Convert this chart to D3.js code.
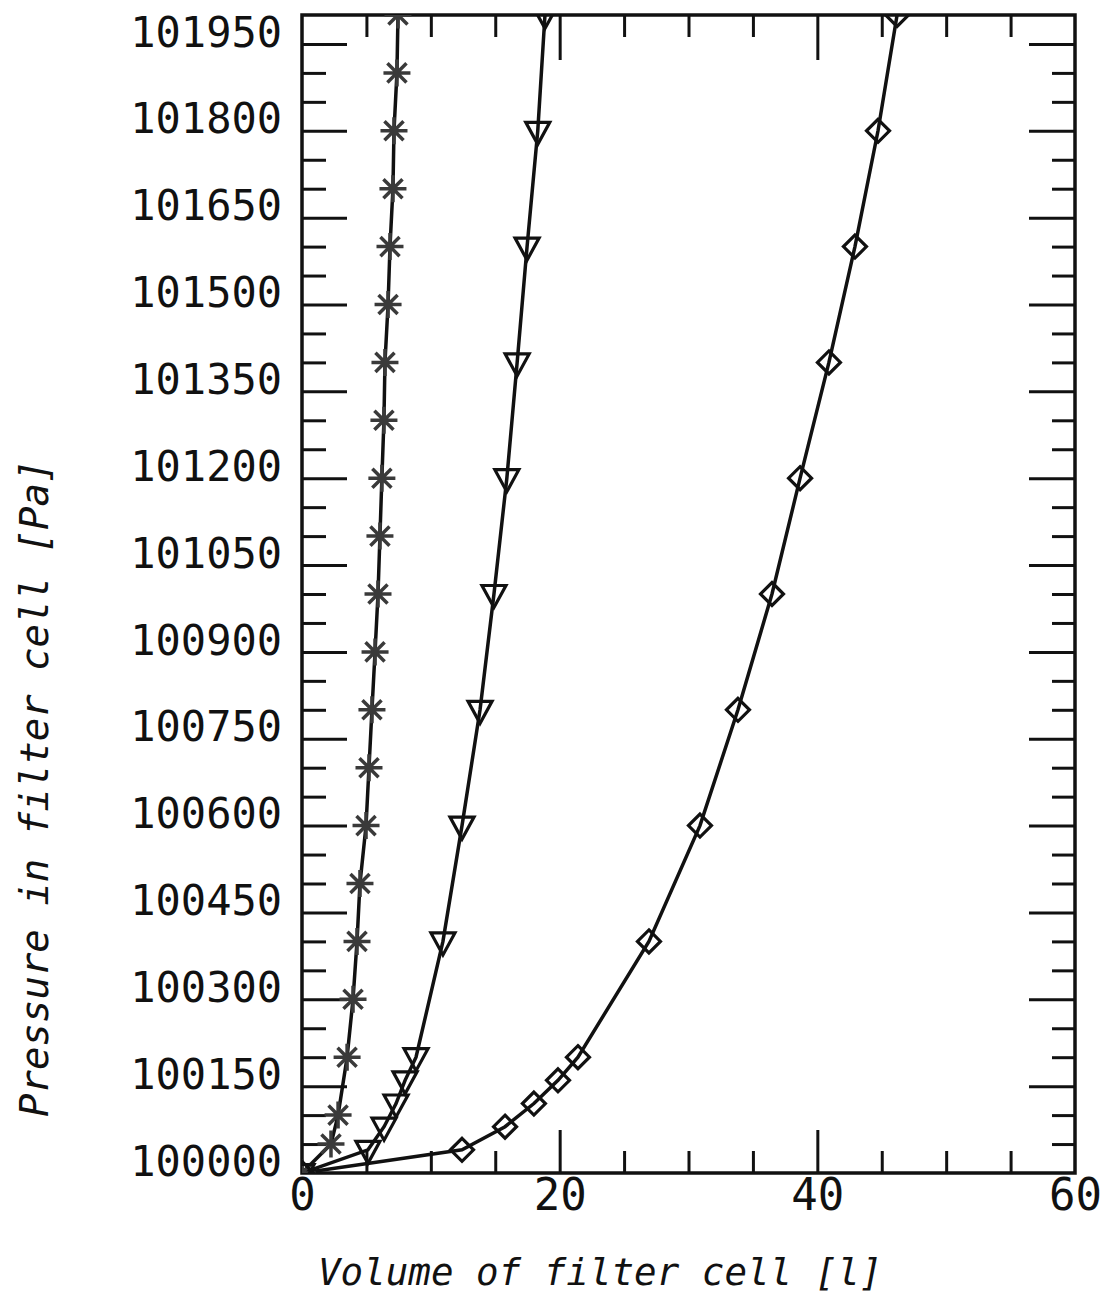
<!DOCTYPE html>
<html>
<head>
<meta charset="utf-8">
<script src="https://cdn.jsdelivr.net/npm/d3@7"></script>
<style>
  body { margin: 0; background: #fff; }
  svg { display: block; }
  .tk line { stroke: #111; stroke-width: 3; }
  .tk text { font-family: "DejaVu Sans Mono", monospace; fill: #111; }
  .title { font-family: "DejaVu Sans Mono", monospace; font-style: italic; fill: #111; }
</style>
</head>
<body>
<svg width="1102" height="1297"></svg>
<script>
// pressure [Pa] and volume [l]
const starPressure = [100000, 100050, 100100, 100200, 100300, 100400, 100500, 100600, 100700, 100800, 100900,
  101000, 101100, 101200, 101300, 101400, 101500, 101600, 101700, 101800, 101900, 102000];
const starVolume = [0, 2.25, 2.8, 3.5, 3.96, 4.27, 4.5, 4.97, 5.2, 5.43, 5.67,
  5.9, 6.05, 6.2, 6.36, 6.44, 6.68, 6.83, 7.06, 7.14, 7.37, 7.45];

const triPressure = [100000, 100040, 100080, 100120, 100160, 100200, 100400, 100600, 100800,
  101000, 101200, 101400, 101600, 101800, 102000];
const triVolume = [0, 5.12, 6.37, 7.3, 8.0, 8.85, 10.94, 12.42, 13.82, 14.9, 15.9, 16.7, 17.47, 18.3, 18.86];

const diaPressure = triPressure;
const diaVolume = [0, 12.42, 15.76, 18.0, 19.87, 21.42, 26.93, 30.89, 33.84, 36.48, 38.66, 40.9, 42.92, 44.71, 46.19];

const xLabels = [0, 20, 40, 60];
const yLabels = d3.range(100000, 101951, 150);

let svg = d3.select("svg"),
  margin = { left: 302, right: 1075, top: 15, bottom: 1173 };

let x = d3.scaleLinear().domain([0, 60]).range([margin.left, margin.right]);
let y = d3.scaleLinear().domain([100000, 102000]).range([margin.bottom, margin.top]);

let xMinor = d3.range(5, 60, 5).filter(v => v % 20 !== 0),
  xMajor = [20, 40],
  yMinor = d3.range(100050, 102000, 50).filter(v => (v - 100000) % 150 !== 0),
  yMajor = d3.range(100150, 101951, 150);

function addAxis(axis, tr) {
  let g = svg.append("g").attr("class", "tk").attr("transform", tr).call(axis);
  g.select(".domain").remove();
  return g;
}

let atBottom = `translate(0,${margin.bottom})`,
  atTop = `translate(0,${margin.top})`,
  atLeft = `translate(${margin.left},0)`,
  atRight = `translate(${margin.right},0)`;

// ticks pointing inward on all four sides
addAxis(d3.axisBottom(x).tickValues(xMinor).tickSize(-22).tickFormat(""), atBottom);
addAxis(d3.axisBottom(x).tickValues(xMajor).tickSize(-43).tickFormat(""), atBottom);
addAxis(d3.axisTop(x).tickValues(xMinor).tickSize(-22).tickFormat(""), atTop);
addAxis(d3.axisTop(x).tickValues(xMajor).tickSize(-45).tickFormat(""), atTop);
addAxis(d3.axisLeft(y).tickValues(yMinor).tickSize(-24).tickFormat(""), atLeft);
addAxis(d3.axisLeft(y).tickValues(yMajor).tickSize(-45).tickFormat(""), atLeft);
addAxis(d3.axisRight(y).tickValues(yMinor).tickSize(-23).tickFormat(""), atRight);
addAxis(d3.axisRight(y).tickValues(yMajor).tickSize(-46).tickFormat(""), atRight);

// tick labels
addAxis(d3.axisBottom(x).tickValues(xLabels).tickSize(0).tickPadding(6).tickFormat(d3.format("d")), atBottom)
  .selectAll("text").style("font-size", "44px");
addAxis(d3.axisLeft(y).tickValues(yLabels).tickSize(0).tickPadding(20).tickFormat(d3.format("d")), atLeft)
  .selectAll("text").style("font-size", "42px").attr("dy", "0.05em");

// frame
svg.append("rect")
  .attr("x", margin.left).attr("y", margin.top)
  .attr("width", margin.right - margin.left).attr("height", margin.bottom - margin.top)
  .attr("fill", "none").attr("stroke", "#111").attr("stroke-width", 3.5);

svg.append("clipPath").attr("id", "plot")
  .append("rect")
  .attr("x", margin.left).attr("y", margin.top)
  .attr("width", margin.right - margin.left).attr("height", margin.bottom - margin.top);

let plot = svg.append("g").attr("clip-path", "url(#plot)");

let line = d3.line().x(d => x(d.v)).y(d => y(d.p));

function series(pressure, volume) {
  return pressure.map((p, i) => ({ p: p, v: volume[i] }));
}

let stars = series(starPressure, starVolume),
  tris = series(triPressure, triVolume),
  dias = series(diaPressure, diaVolume);

[stars, tris, dias].forEach(s => {
  plot.append("path")
    .attr("d", line(s))
    .attr("fill", "none")
    .attr("stroke", "#111")
    .attr("stroke-width", 3.5);
});

// asterisks
let r = 13.5, k = r * 0.7071;
plot.selectAll(".star").data(stars).enter().append("path")
  .attr("class", "star")
  .attr("transform", d => `translate(${x(d.v)},${y(d.p)})`)
  .attr("d", `M${-r},0L${r},0M0,${-r}L0,${r}M${-k},${-k}L${k},${k}M${-k},${k}L${k},${-k}`)
  .attr("fill", "none").attr("stroke", "#3a3a3a").attr("stroke-width", 3.5);

// down triangles
plot.selectAll(".tri").data(tris).enter().append("path")
  .attr("class", "tri")
  .attr("transform", d => `translate(${x(d.v)},${y(d.p)})`)
  .attr("d", "M-12,-8.5L12,-8.5L0,13.5Z")
  .attr("fill", "none").attr("stroke", "#111").attr("stroke-width", 3.2);

// diamonds
plot.selectAll(".dia").data(dias).enter().append("path")
  .attr("class", "dia")
  .attr("transform", d => `translate(${x(d.v)},${y(d.p)})`)
  .attr("d", "M0,-11.5L11.5,0L0,11.5L-11.5,0Z")
  .attr("fill", "none").attr("stroke", "#111").attr("stroke-width", 3.2);

// axis titles
svg.append("text").attr("class", "title")
  .attr("x", 318).attr("y", 1285)
  .style("font-size", "37.5px")
  .text("Volume of filter cell [l]");

svg.append("text").attr("class", "title")
  .attr("transform", "translate(48,1117) rotate(-90)")
  .style("font-size", "39px")
  .text("Pressure in filter cell [Pa]");
</script>
</body>
</html>
